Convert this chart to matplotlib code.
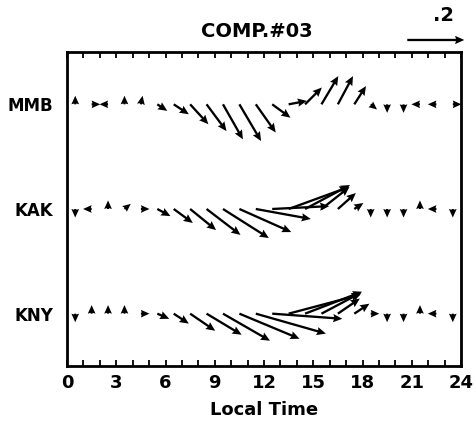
import numpy as np
import matplotlib
matplotlib.use("Agg")
import matplotlib.pyplot as plt

# hourly values, plotted at the half hour
hours = np.arange(24) + 0.5
stations = ["MMB", "KAK", "KNY"]
station_y = [2.5, 1.5, 0.5]

# vector components (same units as the .2 reference arrow), v positive = up
mmb_u = [0.000, 0.030, -0.030, 0.000, 0.006, 0.035, 0.053, 0.064, 0.070, 0.070, 0.076, 0.070,
         0.064, 0.064, 0.059, 0.059, 0.053, 0.041, 0.022, 0.000, 0.000, -0.030, -0.030, 0.030]
mmb_v = [0.030, 0.000, 0.000, 0.030, 0.030, -0.023, -0.035, -0.070, -0.094, -0.123, -0.129, -0.099,
         -0.047, 0.012, 0.059, 0.099, 0.099, 0.064, -0.018, -0.030, -0.030, 0.000, 0.000, 0.000]

kak_u = [0.000, -0.030, 0.000, 0.022, 0.030, 0.046, 0.067, 0.091, 0.119, 0.161, 0.182, 0.193,
         0.200, 0.211, 0.158, 0.098, 0.063, 0.032, 0.000, 0.000, 0.000, 0.000, -0.030, 0.000]
kak_v = [-0.030, 0.000, 0.030, 0.018, 0.000, -0.025, -0.049, -0.074, -0.091, -0.102, -0.081, -0.035,
         0.010, 0.077, 0.084, 0.077, 0.056, 0.021, -0.030, -0.030, -0.030, 0.030, 0.000, -0.030]

kny_u = [0.000, 0.000, 0.000, 0.000, 0.030, 0.042, 0.053, 0.088, 0.123, 0.165, 0.211, 0.246,
         0.246, 0.253, 0.200, 0.140, 0.077, 0.053, 0.030, 0.000, 0.000, 0.000, -0.030, 0.000]
kny_v = [-0.030, 0.030, 0.030, 0.030, 0.000, -0.018, -0.035, -0.060, -0.074, -0.095, -0.088, -0.070,
         -0.018, 0.067, 0.077, 0.074, 0.053, 0.035, 0.000, -0.030, -0.030, 0.030, 0.000, -0.030]

ref_value = 0.2

fig = plt.figure(figsize=(4.76, 4.24), dpi=100)
ax = fig.add_axes([0.1408, 0.1368, 0.8277, 0.7406])

U = np.concatenate([mmb_u, kak_u, kny_u])
V = np.concatenate([mmb_v, kak_v, kny_v])
X = np.tile(hours, 3)
Y = np.repeat(station_y, 24)

# 0.2 units -> about 57 pixels
q = ax.quiver(X, Y, U, V, angles="uv", scale_units="dots", scale=0.2 / 57,
              units="dots", width=2.3, headwidth=3.6, headlength=4.0,
              headaxislength=3.6, minshaft=1, minlength=0, color="black")

ax.quiverkey(q, 0.9155, 0.9057, ref_value, " ", labelpos="N", coordinates="figure")
fig.text(0.931, 0.963, ".2", ha="center", va="center", fontsize=14, fontweight="bold")

ax.set_xlim(0, 24)
ax.set_ylim(0, 3)
ax.set_xticks(np.arange(0, 25, 3))
ax.set_xticks(np.arange(0, 25, 1), minor=True)
ax.tick_params(axis="x", which="both", direction="in", top=True, length=4, width=1.3,
               labelsize=13, pad=6)
ax.set_yticks(station_y)
ax.set_yticklabels(stations, fontsize=12, fontweight="bold")
ax.tick_params(axis="y", length=0, pad=10)
for lab in ax.get_xticklabels():
    lab.set_fontweight("bold")
for sp in ax.spines.values():
    sp.set_linewidth(2)

ax.text(0.482, 1.035, "COMP.#03", transform=ax.transAxes, ha="center", va="bottom",
        fontsize=14, fontweight="bold")
ax.set_xlabel("Local Time", fontsize=13, fontweight="bold", labelpad=6)

fig.savefig("out.png", dpi=100)
